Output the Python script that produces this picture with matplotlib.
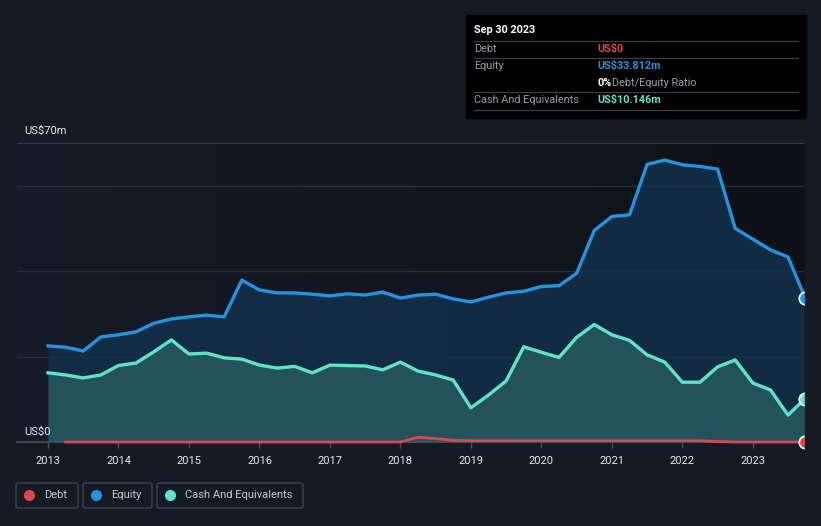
import numpy as np
import matplotlib.pyplot as plt
from matplotlib.patches import FancyBboxPatch
from matplotlib.colors import LinearSegmentedColormap

# quarterly points, decimal years
dates = [2013 + 0.25 * i for i in range(44)]
dates[-1] = 2023.74

equity = [22.5, 22.2, 21.3, 24.6, 25.1, 25.8, 27.8, 28.8, 29.3, 29.7, 29.3, 37.9,
          35.6, 34.9, 34.9, 34.6, 34.2, 34.7, 34.4, 35.1, 33.7, 34.4, 34.6, 33.5,
          32.8, 33.9, 34.9, 35.3, 36.4, 36.6, 39.5, 49.5, 52.8, 53.2, 65.0, 66.0,
          64.9, 64.5, 63.9, 50.0, 47.5, 45.0, 43.3, 33.812]

cash = [16.2, 15.7, 15.0, 15.7, 17.9, 18.5, 21.1, 23.9, 20.6, 20.8, 19.7, 19.4,
        18.0, 17.3, 17.7, 16.2, 18.0, 17.9, 17.8, 16.9, 18.7, 16.6, 15.7, 14.5,
        8.0, 11.0, 14.3, 22.3, 21.0, 19.8, 24.5, 27.5, 25.1, 23.8, 20.4, 18.7,
        14.0, 14.0, 17.6, 19.2, 13.8, 12.2, 6.3, 10.146]

debt_dates = dates[1:]
debt = [0] * 19 + [0, 1.1, 0.8, 0.4, 0.3, 0.3, 0.3, 0.3, 0.3, 0.3, 0.3, 0.3,
                   0.3, 0.3, 0.3, 0.3, 0.3, 0.3, 0.1, 0, 0, 0, 0, 0]

years = list(range(2013, 2024))

BG = "#151b25"
EQ = "#2394df"
CA = "#5fe3c9"
DE = "#e0474c"

plt.rcParams["font.family"] = ["Roboto", "DejaVu Sans"]

fig = plt.figure(figsize=(8.21, 5.26), dpi=100, facecolor=BG)
ax = fig.add_axes([17 / 821, 84 / 526, 788 / 821, 299 / 526])
ax.set_facecolor(BG)

x0 = 2013 - 31 / 70.5
x1 = dates[-1]
ax.set_xlim(x0, x1)
ax.set_ylim(0, 70)

# background gradient, lighter on the left, darker on the right
grad = np.linspace(0, 1, 256).reshape(1, -1)
cmap = LinearSegmentedColormap.from_list("bg", ["#161c27", "#0e1117"])
ax.imshow(grad, extent=[x0, x1, 0, 70], aspect="auto", cmap=cmap, zorder=0)

for g in [20, 40, 60]:
    ax.axhline(g, color="#2a313c", lw=1, zorder=1)
ax.axhline(70, color="#3d444f", lw=1.2, zorder=1)

ax.fill_between(dates, equity, color="#12304b", alpha=0.85, zorder=2, lw=0)
ax.fill_between(dates, cash, color="#2b6065", alpha=0.75, zorder=3, lw=0)

ax.plot(dates, equity, color=EQ, lw=2.4, zorder=5, solid_joinstyle="round")
ax.plot(dates, cash, color=CA, lw=2.4, zorder=5, solid_joinstyle="round")
ax.plot(debt_dates, debt, color=DE, lw=2, zorder=6, clip_on=False)

for v, c in [(equity[-1], EQ), (cash[-1], CA), (debt[-1], DE)]:
    ax.plot([x1], [v], "o", ms=9, mfc=c, mec="white", mew=1.2, zorder=7, clip_on=False)

for s in ["top", "right", "left"]:
    ax.spines[s].set_visible(False)
ax.spines["bottom"].set_color("#4a505a")
ax.spines["bottom"].set_linewidth(1.2)
ax.set_yticks([])
ax.set_xticks(years)
ax.set_xticklabels([str(y) for y in years])
ax.tick_params(axis="x", colors="#4a505a", length=4, width=1, pad=6, labelcolor="#e6e8eb",
               labelsize=8)

# right edge hides the outer half of the end markers
fig.patches.append(plt.Rectangle((805 / 821, 1 - 455 / 526), 16 / 821, 320 / 526,
                                 transform=fig.transFigure, color=BG, zorder=20))

fig.text(24 / 821, 1 - 131 / 526, "US$70m", color="#e6e8eb", fontsize=8, va="center")
fig.text(24 / 821, 1 - 432 / 526, "US$0", color="#e6e8eb", fontsize=8, va="center", zorder=10)

# tooltip box
fig.patches.append(plt.Rectangle((466 / 821, 1 - 118 / 526), 340 / 821, 103 / 526,
                                 transform=fig.transFigure, color="#000000", zorder=8))
for yy in [41, 58, 92, 110]:
    fig.lines.append(plt.Line2D([474 / 821, 798 / 821], [1 - yy / 526] * 2,
                                transform=fig.transFigure, color="#3c3f44", lw=0.9, zorder=9))


def t(x, y, s, c, w="normal"):
    fig.text(x / 821, 1 - y / 526, s, color=c, fontsize=7.8, va="center", fontweight=w, zorder=10)


t(474, 30, "Sep 30 2023", "#ffffff", "bold")
t(474, 49, "Debt", "#9a9ea5")
t(597, 49, "US$0", DE, "bold")
t(474, 66, "Equity", "#9a9ea5")
t(597, 66, "US$33.812m", EQ, "bold")
t(597, 83, "0%", "#ffffff", "bold")
t(612, 83, "Debt/Equity Ratio", "#9a9ea5")
t(474, 100, "Cash And Equivalents", "#9a9ea5")
t(597, 100, "US$10.146m", CA, "bold")

# legend boxes
items = [("Debt", DE, 16, 78), ("Equity", EQ, 83, 152), ("Cash And Equivalents", CA, 157, 303)]
for label, c, xa, xb in items:
    box = FancyBboxPatch((xa / 821, 1 - 508 / 526), (xb - xa) / 821, 25 / 526,
                         boxstyle="round,pad=0,rounding_size=0.003",
                         transform=fig.transFigure, fc="none", ec="#3c424c", lw=1)
    fig.patches.append(box)
    fig.lines.append(plt.Line2D([(xa + 13) / 821], [1 - 495 / 526], marker="o", ms=7,
                                mfc=c, mec=c, transform=fig.transFigure))
    fig.text((xa + 28) / 821, 1 - 495 / 526, label, color="#c9ccd1", fontsize=8, va="center")

fig.savefig("out.png", dpi=100, facecolor=BG)
